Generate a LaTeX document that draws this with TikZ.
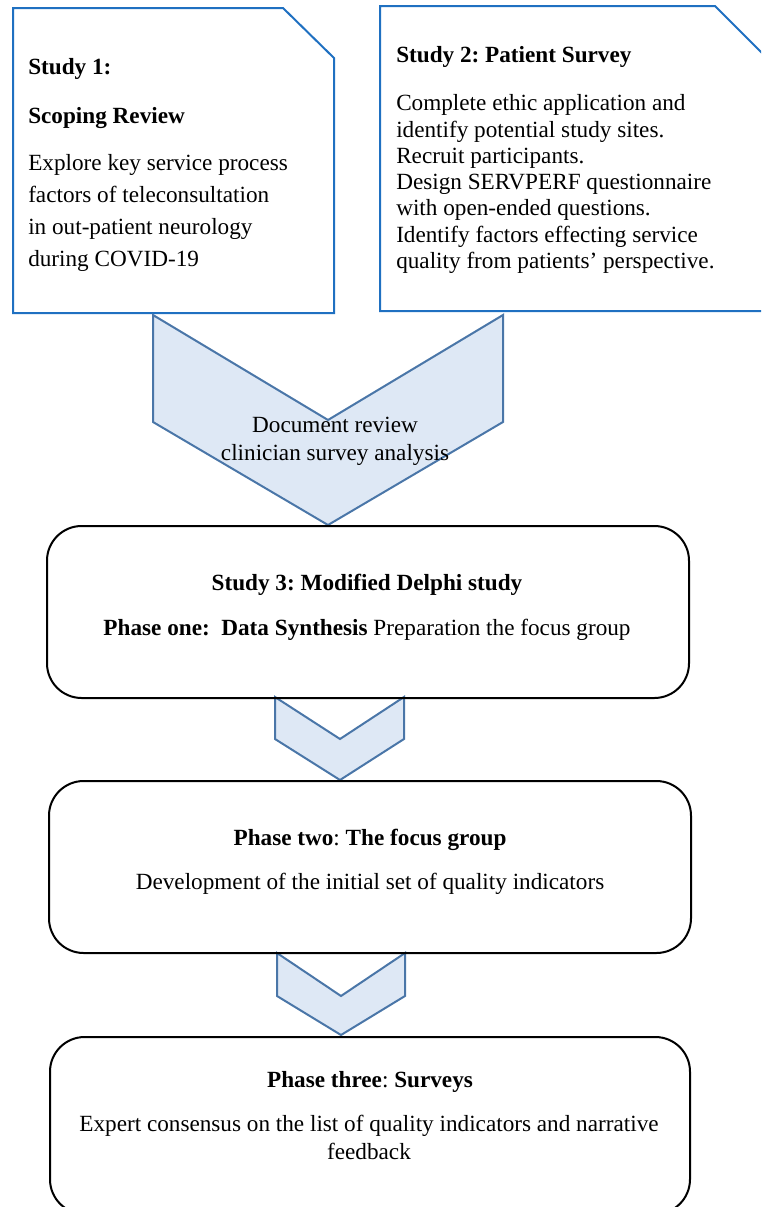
\documentclass[tikz,border=0pt]{standalone}
\usepackage{fontspec}
\setmainfont{Liberation Serif}
\definecolor{boxblue}{HTML}{1F70C1}
\definecolor{chevstroke}{HTML}{4A76A8}
\definecolor{chevfill}{HTML}{DEE8F5}
\frenchspacing
\begin{document}
\begin{tikzpicture}[x=0.75pt,y=-0.75pt,
  bluebox/.style={draw=boxblue, line width=1.5pt},
  chev/.style={draw=chevstroke, fill=chevfill, line width=1.5pt, line join=miter},
  rbox/.style={draw=black, line width=1.5pt, rounded corners=26pt},
  txt/.style={inner sep=0pt, font=\fontsize{17.4}{24}\selectfont}]
\useasboundingbox (0,0) rectangle (761,1207);
\clip (0,0) rectangle (761,1207);
% top boxes
\draw[bluebox] (13,8) -- (283,8) -- (334,58) -- (334,313) -- (13,313) -- cycle;
\draw[bluebox] (380,6) -- (715,6) -- (775,66) -- (775,311) -- (380,311) -- cycle;
% chevrons
\draw[chev] (153,315) -- (328,420) -- (503,315) -- (503,422) -- (328,525) -- (153,422) -- cycle;
\draw[chev] (275,697) -- (340,739) -- (404,697) -- (404,739) -- (340,780) -- (275,739) -- cycle;
\draw[chev] (277,953) -- (341,996) -- (405,953) -- (405,996) -- (341,1035) -- (277,996) -- cycle;
% rounded boxes
\draw[rbox] (47,526) rectangle (689,698);
\draw[rbox] (49,781) rectangle (691,953);
\draw[rbox] (50,1037) rectangle (690,1214);
% texts box 1
\node[txt, anchor=base west] (s1a) at (28,74) {\bfseries Study 1:};
\node[txt, anchor=base west] (s1b) at (28,123) {\bfseries Scoping Review};
\node[txt, anchor=base west] (s1c) at (28,170) {Explore key service process};
\node[txt, anchor=base west] (s1d) at (28,202) {factors of teleconsultation};
\node[txt, anchor=base west] (s1e) at (28,234) {in out-patient neurology};
\node[txt, anchor=base west] (s1f) at (28,266) {during COVID-19};
% texts box 2
\node[txt, anchor=base west] (s2a) at (396,62) {\bfseries Study 2: Patient Survey};
\node[txt, anchor=base west] (s2b) at (396,110) {Complete ethic application and};
\node[txt, anchor=base west] (s2c) at (396,137) {identify potential study sites.};
\node[txt, anchor=base west] (s2d) at (396,163) {Recruit participants.};
\node[txt, anchor=base west] (s2e) at (396,189) {Design SERVPERF questionnaire};
\node[txt, anchor=base west] (s2f) at (396,215) {with open-ended questions.};
\node[txt, anchor=base west] (s2g) at (396,242) {Identify factors effecting service};
\node[txt, anchor=base west] (s2h) at (396,268) {quality from patients’ perspective.};
% chevron text
\node[txt, anchor=base] (dr1) at (335,432) {Document review};
\node[txt, anchor=base] (dr2) at (335,460) {clinician survey analysis};
% study 3
\node[txt, anchor=base] (p1a) at (367,590) {\bfseries Study 3: Modified Delphi study};
\node[txt, anchor=base] (p1b) at (367,635) {\textbf{Phase one:\ \ Data Synthesis} Preparation the focus group};
% phase two
\node[txt, anchor=base] (p2a) at (370,845) {\textbf{Phase two}: \textbf{The focus group}};
\node[txt, anchor=base] (p2b) at (370,889) {Development of the initial set of quality indicators};
% phase three
\node[txt, anchor=base] (p3a) at (370,1087) {\textbf{Phase three}: \textbf{Surveys}};
\node[txt, anchor=base] (p3b) at (369,1131) {Expert consensus on the list of quality indicators and narrative};
\node[txt, anchor=base] (p3c) at (369,1159) {feedback};
\end{tikzpicture}
\end{document}
